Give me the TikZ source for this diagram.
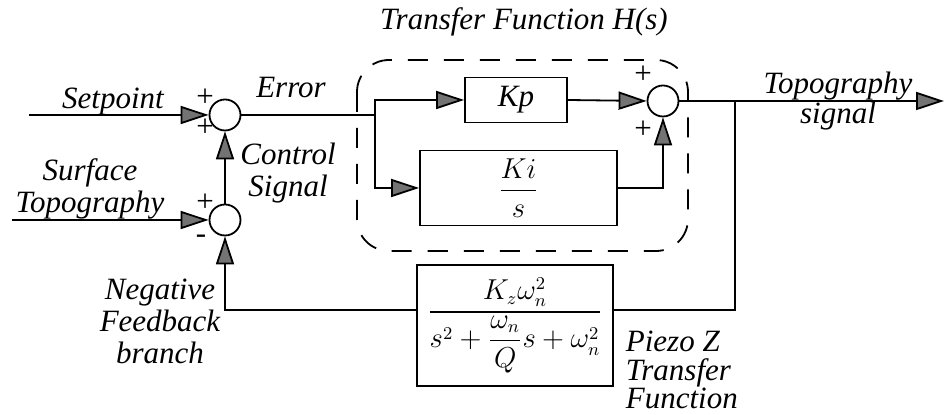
\documentclass[tikz,border=0pt]{standalone}
\usepackage{amsmath}
\usepackage{fontspec}
\setmainfont{Liberation Serif}
\usepackage{tikz}
\usetikzlibrary{arrows.meta, calc}

\begin{document}
\begin{tikzpicture}[
    x=0.5pt, y=-0.5pt,
    line width=0.9pt,
    every node/.style={font=\fontsize{15.5}{16}\selectfont\itshape},
    sumnode/.style={draw, circle, minimum size=15.5pt, inner sep=0pt},
    blk/.style={draw, rectangle, inner sep=0pt, align=center},
    arr/.style={-{Triangle[length=14pt, width=9pt, fill=black!55]}},
    pm/.style={font=\fontsize{15.5}{16}\selectfont\upshape, inner sep=0pt,
               text height=7pt, text depth=0pt},
    lbl/.style={inner sep=0pt, align=center},
    dashbox/.style={dash pattern=on 10pt off 8pt, rounded corners=16pt},
]
\useasboundingbox (0,0) rectangle (944,415);

% ===== summing junctions =====
\node[sumnode] (S1) at (225,115) {};
\node[sumnode] (S2) at (225,220) {};
\node[sumnode] (S3) at (663,101) {};

% ===== blocks =====
\node[blk, minimum width=51pt, minimum height=22.5pt] (Kp) at (516,100) {Kp};
\node[blk, minimum width=98.5pt, minimum height=37.5pt] (Ki) at (518.5,188) {$\dfrac{Ki}{s}$};
\node[blk, minimum width=98pt, minimum height=60.5pt,
      font=\fontsize{13.5}{16}\selectfont] (Gz) at (515,325.5)
      {$\dfrac{K_z\omega_n^2}{s^2+\dfrac{\omega_n}{Q}s+\omega_n^2}$};

% transfer function H(s) boundary
\draw[dashbox] (357,60) rectangle (688,251);

% ===== end points and branch points =====
\coordinate (sp)    at (29,115);
\coordinate (st)    at (12,220);
\coordinate (split) at (375,115);
\coordinate (tap)   at (735,101);
\coordinate (out)   at (944,101);
\coordinate (fbR)   at ($(Gz.east)+(0,-15.5)$);
\coordinate (fbL)   at ($(Gz.west)+(0,-15.5)$);

% ===== signal paths =====
\draw[arr] (sp) -- (S1.west);
\draw[arr] (st) -- (S2.west);
\draw[arr] (S2.north) -- (S1.south);
\draw (S1.east) -- (split);
\draw[arr] (split) |- (Kp.west);
\draw[arr] (split) |- (Ki.west);
\draw[arr] (Kp.east) -- (S3.west);
\draw[arr] (Ki.east) -| (S3.south);
\draw[arr] (S3.east) -- (out);

% feedback branch
\draw (tap) |- (fbR);
\draw[arr] (fbL) -| (S2.south);

% ===== signs =====
\node[pm] (p1) at (205,100) {+};
\node[pm] (p2) at (205,130) {+};
\node[pm] (p3) at (205,205) {+};
\node[pm] (m1) at (201,237) {-};
\node[pm] (p4) at (643,77)  {+};
\node[pm] (p5) at (643,132) {+};

% ===== labels =====
\node[lbl] (title) at (524,22) {Transfer Function H(s)};
\node[lbl, anchor=base] (setpt) at (113,109) {Setpoint};
\node[lbl, anchor=base] (err) at (291,98) {Error};
\node[lbl] (surf) at (90,189) {Surface\\Topography};
\node[lbl] (ctrl) at (288,173) {Control\\Signal};
\node[lbl] (negfb) at (160,321) {Negative\\Feedback\\branch};
\node[lbl] (topo) at (838,101) {Topography\\[-1pt]signal};
\node[lbl, anchor=west, align=left] (piezo) at (625,370) {Piezo Z\\[-1.8pt]Transfer\\[-1.8pt]Function};

\end{tikzpicture}
\end{document}
